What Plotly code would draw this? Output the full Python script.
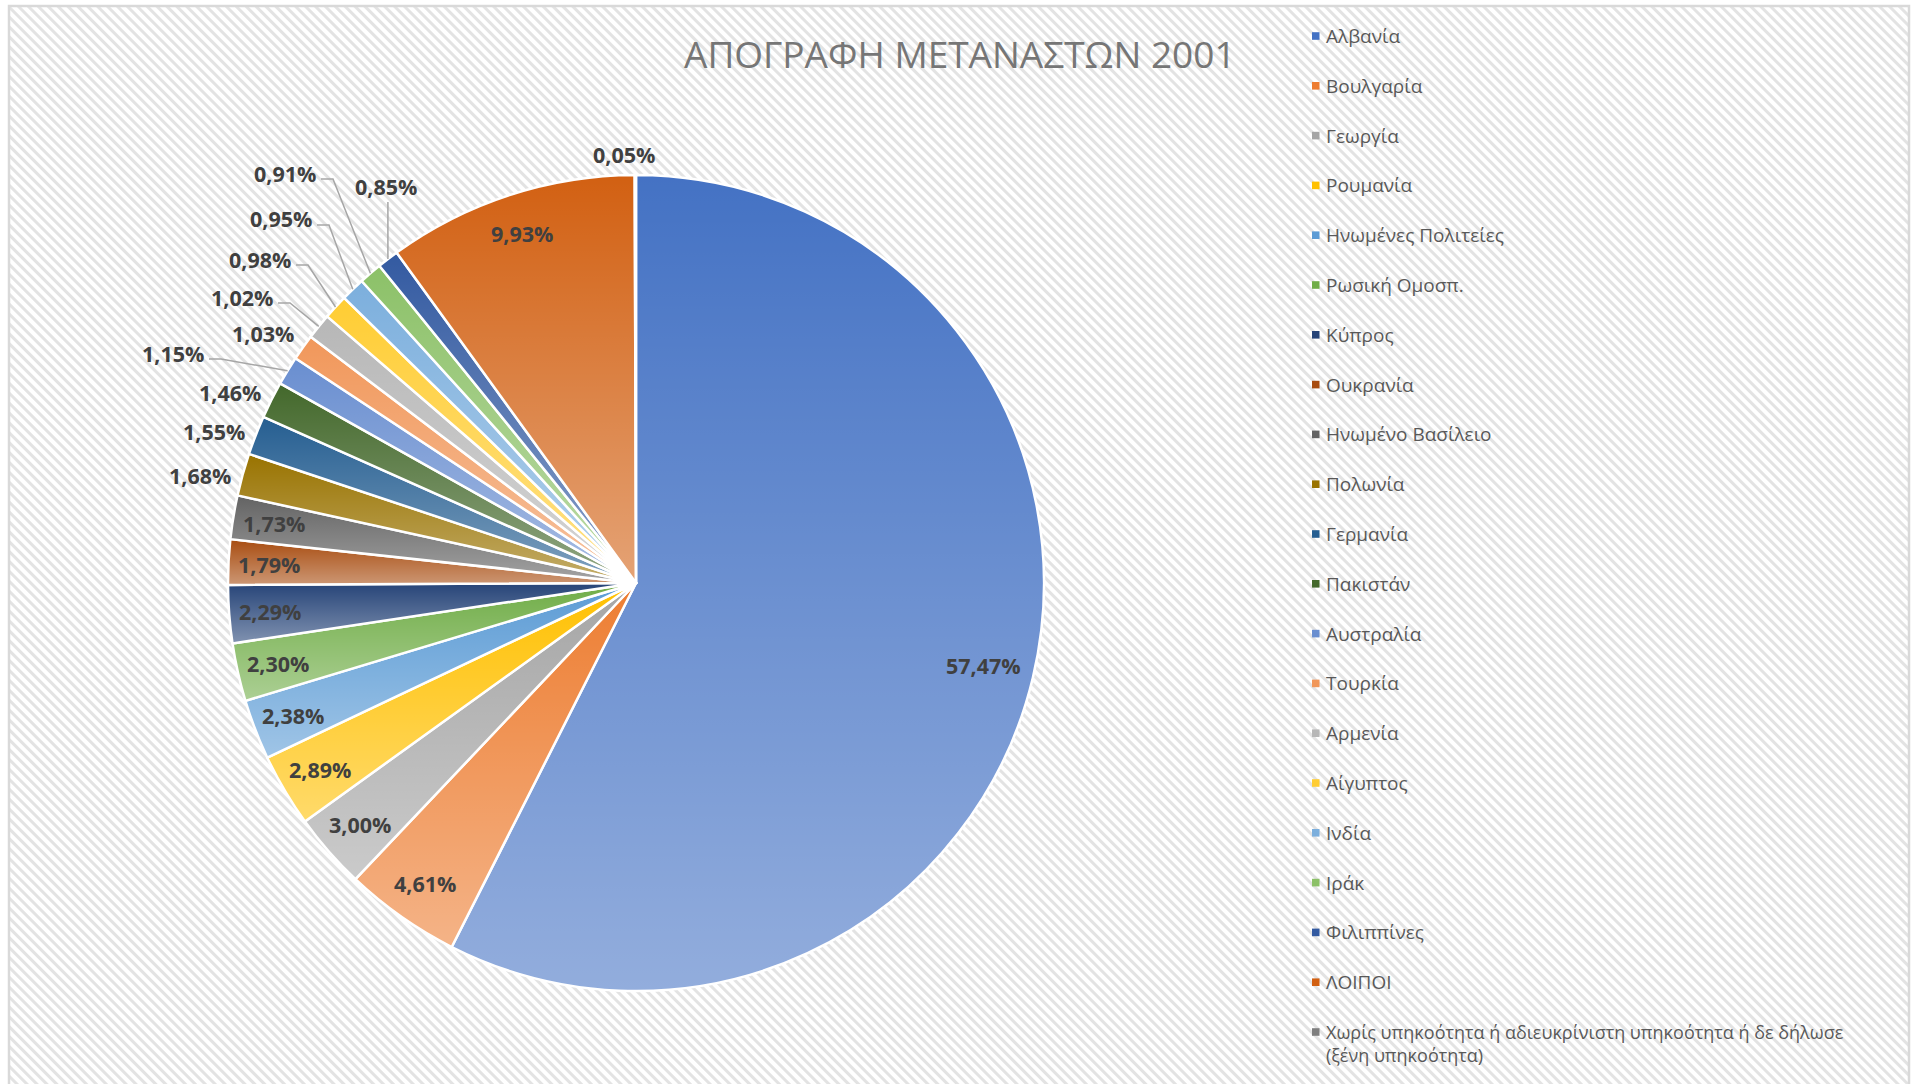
import base64
import math
import plotly.graph_objects as go

W, H = 1917, 1084

title = "ΑΠΟΓΡΑΦΗ ΜΕΤΑΝΑΣΤΩΝ 2001"

countries = [
    "Αλβανία", "Βουλγαρία", "Γεωργία", "Ρουμανία", "Ηνωμένες Πολιτείες",
    "Ρωσική Ομοσπ.", "Κύπρος", "Ουκρανία", "Ηνωμένο Βασίλειο", "Πολωνία",
    "Γερμανία", "Πακιστάν", "Αυστραλία", "Τουρκία", "Αρμενία",
    "Αίγυπτος", "Ινδία", "Ιράκ", "Φιλιππίνες", "ΛΟΙΠΟΙ",
    "Χωρίς υπηκοότητα ή αδιευκρίνιστη υπηκοότητα ή δε δήλωσε (ξένη υπηκοότητα)",
]
shares = [
    57.47, 4.61, 3.00, 2.89, 2.38,
    2.30, 2.29, 1.79, 1.73, 1.68,
    1.55, 1.46, 1.15, 1.03, 1.02,
    0.98, 0.95, 0.91, 0.85, 9.93,
    0.05,
]
colors = [
    "#4472C4", "#ED7D31", "#A5A5A5", "#FFC000", "#5B9BD5",
    "#70AD47", "#264478", "#A84C10", "#636363", "#997300",
    "#255E91", "#43682B", "#698ED0", "#F1975A", "#B7B7B7",
    "#FFCD33", "#7CAFDD", "#8CC168", "#335AA1", "#D26012",
    "#7F7F7F",
]

# pie geometry in screen pixels
CX, CY, R = 636, 583, 408

# labels sitting just outside the rim (no leader)
outside = {"Πολωνία": 1.10, "Γερμανία": 1.10, "Πακιστάν": 1.10, "Τουρκία": 1.10,
           countries[-1]: 1.05}
# labels pushed away with a leader line: text centre in pixels
leader_pos = {
    "Αυστραλία": (173, 353),
    "Αρμενία": (242, 297),
    "Αίγυπτος": (260, 259),
    "Ινδία": (281, 219),
    "Ιράκ": (285, 173),
    "Φιλιππίνες": (386, 187, "below"),
}
inside_r = {"Αλβανία": 0.875}


def pp(x, y):
    return x / W, 1 - y / H


def svg_uri(svg):
    return "data:image/svg+xml;base64," + base64.b64encode(svg.encode("utf-8")).decode()


fig = go.Figure()

fig.add_trace(go.Pie(
    labels=countries, values=shares,
    sort=False, direction="clockwise", rotation=0,
    marker=dict(colors=colors, line=dict(color="white", width=2.5)),
    textinfo="none", hoverinfo="label+value",
    domain=dict(x=[(CX - R) / W, (CX + R) / W], y=[1 - (CY + R) / H, 1 - (CY - R) / H]),
    showlegend=False,
))

annotations = []
shapes = []
wedges = []

label_font = dict(family="Open Sans", size=21.5, color="#404040", weight="bold")

total = sum(shares)
cum = 0.0
for i, (name, v) in enumerate(zip(countries, shares)):
    a0 = cum / total * 2 * math.pi
    mid = (cum + v / 2) / total * 2 * math.pi
    cum += v
    a1 = cum / total * 2 * math.pi

    # per-slice vertical light-up, like Excel's gradient fill
    sx, sy = CX + R * math.sin(a0), CY - R * math.cos(a0)
    ex, ey = CX + R * math.sin(a1), CY - R * math.cos(a1)
    large = 1 if a1 - a0 > math.pi else 0
    wedges.append(
        f'<linearGradient id="g{i}" x1="0" y1="0" x2="0" y2="1">'
        '<stop offset="0" stop-color="#ffffff" stop-opacity="0"/>'
        '<stop offset="1" stop-color="#ffffff" stop-opacity="0.42"/></linearGradient>'
        f'<path d="M {CX},{CY} L {sx:.2f},{sy:.2f} A {R},{R} 0 {large} 1 {ex:.2f},{ey:.2f} Z" '
        f'fill="url(#g{i})"/>'
    )

    txt = f"{v:.2f}%".replace(".", ",")
    if name in leader_pos:
        lp = leader_pos[name]
        tx, ty = lp[0], lp[1]
        mx, my = CX + R * math.sin(mid), CY - R * math.cos(mid)
        if len(lp) > 2:
            pts = [(mx, ty + 15), (mx, my)]
        else:
            pts = [(tx + 36, ty + 6), (tx + 48, ty + 6), (mx, my)]
        path = "M " + " L ".join(f"{pp(*p)[0]:.5f},{pp(*p)[1]:.5f}" for p in pts)
        shapes.append(dict(type="path", xref="paper", yref="paper", path=path,
                           line=dict(color="#A6A6A6", width=1.5)))
    elif name in outside:
        rf = outside[name]
        am = mid - math.radians(1.5)
        tx, ty = CX + rf * R * math.sin(am), CY - rf * R * math.cos(am)
    else:
        rf = inside_r.get(name, 0.9)
        tx, ty = CX + rf * R * math.sin(mid), CY - rf * R * math.cos(mid)
    x, y = pp(tx, ty)
    annotations.append(dict(x=x, y=y, xref="paper", yref="paper", text=txt,
                            showarrow=False, xanchor="center", yanchor="middle",
                            font=label_font))

# legend, drawn by hand for Excel-like spacing
for i, (name, c) in enumerate(zip(countries, colors)):
    yc = 36 + i * 49.8
    x0, y0 = pp(1312, yc + 3.8)
    x1, y1 = pp(1319.5, yc - 3.8)
    shapes.append(dict(type="rect", xref="paper", yref="paper", x0=x0, y0=y0, x1=x1, y1=y1,
                       fillcolor=c, line=dict(width=0)))
    lx, ly = pp(1324, yc)
    text = name
    yanchor = "middle"
    size = 19
    if " (" in name:
        text = name.replace(" (", "<br>(")
        lx, ly = pp(1324, yc - 14)
        yanchor = "top"
        size = 18
    annotations.append(dict(x=lx, y=ly, xref="paper", yref="paper", text=text, align="left",
                            showarrow=False, xanchor="left", yanchor=yanchor,
                            font=dict(family="Open Sans", size=size, color="#595959")))

# title
tx, ty = pp(960, 54)
annotations.append(dict(x=tx, y=ty, xref="paper", yref="paper", text=title, showarrow=False,
                        xanchor="center", yanchor="middle",
                        font=dict(family="Open Sans", size=37, color="#767676")))

# chart frame
fx0, fy0 = pp(9, 6)
fx1, fy1 = pp(1909, H + 10)
shapes.append(dict(type="rect", xref="paper", yref="paper", x0=fx0, y0=fy0, x1=fx1, y1=fy1,
                   line=dict(color="#D9D9D9", width=2.5), layer="below"))

# hatched chart background
hatch = (
    f'<svg xmlns="http://www.w3.org/2000/svg" width="{W}" height="{H}" viewBox="0 0 {W} {H}">'
    '<defs><pattern id="h" width="7" height="7" patternUnits="userSpaceOnUse" '
    'patternTransform="rotate(-45)">'
    '<rect width="7" height="7" fill="#ffffff"/><rect width="3" height="7" fill="#E3E3E3"/>'
    '</pattern></defs>'
    f'<rect x="9" y="6" width="{1909 - 9}" height="{H}" fill="url(#h)"/></svg>'
)
shade = (
    f'<svg xmlns="http://www.w3.org/2000/svg" width="{W}" height="{H}" viewBox="0 0 {W} {H}">'
    + "".join(wedges) + "</svg>"
)
images = [
    dict(source=svg_uri(hatch), xref="paper", yref="paper", x=0, y=1, sizex=1, sizey=1,
         xanchor="left", yanchor="top", sizing="stretch", layer="below"),
    dict(source=svg_uri(shade), xref="paper", yref="paper", x=0, y=1, sizex=1, sizey=1,
         xanchor="left", yanchor="top", sizing="stretch", layer="above"),
]

fig.update_layout(
    width=W, height=H,
    margin=dict(l=0, r=0, t=0, b=0),
    paper_bgcolor="white",
    showlegend=False,
    annotations=annotations,
    shapes=shapes,
    images=images,
)

fig.write_html("out.html", config={"displayModeBar": False},
               post_script="document.body.style.margin='0';")
